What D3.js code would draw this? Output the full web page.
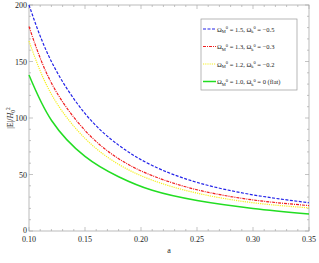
<!DOCTYPE html>
<html>
<head>
<meta charset="utf-8">
<script src="https://cdn.jsdelivr.net/npm/d3@7"></script>
<style>
  body { margin: 0; background: #fff; }
  text { font-family: "Liberation Serif", "DejaVu Serif", serif; }
</style>
</head>
<body>
<svg id="chart" width="319" height="263"></svg>
<script>
// values
const aValues = [0.10, 0.12, 0.15, 0.18, 0.21, 0.25, 0.30, 0.35];
const blueValues = [200, 150, 104, 76, 58, 43, 32, 25];
const redValues = [181, 131, 89, 64, 49, 36.5, 27.5, 22.5];
const yellowValues = [168, 121, 82, 59, 45, 33.5, 25, 20.5];
const greenValues = [138, 98, 66, 48, 36, 27, 20, 15];
const xTicks = [0.10, 0.15, 0.20, 0.25, 0.30, 0.35];
const yTicks = [0, 50, 100, 150, 200];
const legendLabels = [
    ['1.5', '\u22120.5'],
    ['1.3', '\u22120.3'],
    ['1.2', '\u22120.2'],
    ['1.0', '0 (flat)']
];

const series = [
    { values: blueValues, color: '#2424e8', dash: '3,1.5', width: 1.2 },
    { values: redValues, color: '#f02020', dash: '3,1,1,1', width: 1.2 },
    { values: yellowValues, color: '#f6f020', dash: '1.2,1', width: 1.2 },
    { values: greenValues, color: '#22dd22', dash: null, width: 1.5 }
];

const svg = d3.select('#chart');
const plotL = 29, plotR = 309, plotT = 5, plotB = 231;

const x = d3.scaleLinear().domain([0.10, 0.35]).range([plotL, plotR]);
const y = d3.scaleLinear().domain([0, 200]).range([plotB, plotT]);

const axisColor = '#aaa';

// frame
svg.append('rect')
    .attr('x', plotL).attr('y', plotT)
    .attr('width', plotR - plotL).attr('height', plotB - plotT)
    .attr('fill', 'none').attr('stroke', axisColor).attr('stroke-width', 0.8);

// ticks on all sides, pointing inward
const xMinor = d3.range(0, 26).map(i => 0.10 + i * 0.01);
const yMinor = d3.range(0, 21).map(i => i * 10);
const tickG = svg.append('g').attr('stroke', axisColor).attr('stroke-width', 0.7);
xMinor.forEach((v, i) => {
    const len = (i % 5 === 0) ? 4 : 2;
    tickG.append('line').attr('x1', x(v)).attr('x2', x(v)).attr('y1', plotB).attr('y2', plotB - len);
    tickG.append('line').attr('x1', x(v)).attr('x2', x(v)).attr('y1', plotT).attr('y2', plotT + len);
});
yMinor.forEach((v, i) => {
    const len = (i % 5 === 0) ? 4 : 2;
    tickG.append('line').attr('x1', plotL).attr('x2', plotL + len).attr('y1', y(v)).attr('y2', y(v));
    tickG.append('line').attr('x1', plotR).attr('x2', plotR - len).attr('y1', y(v)).attr('y2', y(v));
});

// tick labels
svg.append('g').selectAll('text')
    .data(xTicks)
    .enter().append('text')
    .attr('x', d => x(d))
    .attr('y', plotB + 11)
    .attr('text-anchor', 'middle')
    .attr('font-size', 8)
    .attr('fill', '#222')
    .text(d => d3.format('.2f')(d));

svg.append('g').selectAll('text')
    .data(yTicks)
    .enter().append('text')
    .attr('x', plotL - 2)
    .attr('y', d => y(d) + (d === 0 ? 1.5 : 3))
    .attr('text-anchor', 'end')
    .attr('font-size', 8)
    .attr('fill', '#222')
    .text(d => d);

// axis titles
svg.append('text')
    .attr('x', (plotL + plotR) / 2)
    .attr('y', 253)
    .attr('text-anchor', 'middle')
    .attr('font-size', 8)
    .attr('fill', '#222')
    .text('a');

const yTitle = svg.append('text')
    .attr('transform', 'translate(13,' + 118 + ') rotate(-90)')
    .attr('text-anchor', 'middle')
    .attr('font-size', 8)
    .attr('fill', '#222');
yTitle.append('tspan').text('|E|/');
yTitle.append('tspan').attr('font-style', 'italic').text('H');
yTitle.append('tspan').attr('font-size', 5.5).attr('dy', 2).text('0');
yTitle.append('tspan').attr('font-size', 5.5).attr('dy', -5).text('2');

// curves
const line = d3.line()
    .x((d, i) => x(aValues[i]))
    .y(d => y(d))
    .curve(d3.curveNatural);

svg.append('g').selectAll('path')
    .data(series)
    .enter().append('path')
    .attr('d', d => line(d.values))
    .attr('fill', 'none')
    .attr('stroke', d => d.color)
    .attr('stroke-width', d => d.width)
    .attr('stroke-dasharray', d => d.dash);

// legend
const lg = svg.append('g');
lg.append('rect')
    .attr('x', 201).attr('y', 19)
    .attr('width', 96).attr('height', 71)
    .attr('fill', '#fff').attr('stroke', '#999').attr('stroke-width', 0.7);

series.forEach((s, i) => {
    const ly = 29 + i * 17.5;
    lg.append('line')
        .attr('x1', 203).attr('x2', 216)
        .attr('y1', ly).attr('y2', ly)
        .attr('stroke', s.color)
        .attr('stroke-width', s.width)
        .attr('stroke-dasharray', s.dash);
    const t = lg.append('text')
        .attr('x', 217).attr('y', ly + 2.5)
        .attr('font-size', 6.5)
        .attr('fill', '#222');
    t.append('tspan').text('\u03A9');
    t.append('tspan').attr('font-size', 4.5).attr('dy', 1.5).text('M');
    t.append('tspan').attr('font-size', 4.5).attr('dy', -4).text('0');
    t.append('tspan').attr('dy', 2.5).text(' = ' + legendLabels[i][0] + ', \u03A9');
    t.append('tspan').attr('font-size', 4.5).attr('dy', 1.5).text('k');
    t.append('tspan').attr('font-size', 4.5).attr('dy', -4).text('0');
    t.append('tspan').attr('dy', 2.5).text(' = ' + legendLabels[i][1]);
});
</script>
</body>
</html>
